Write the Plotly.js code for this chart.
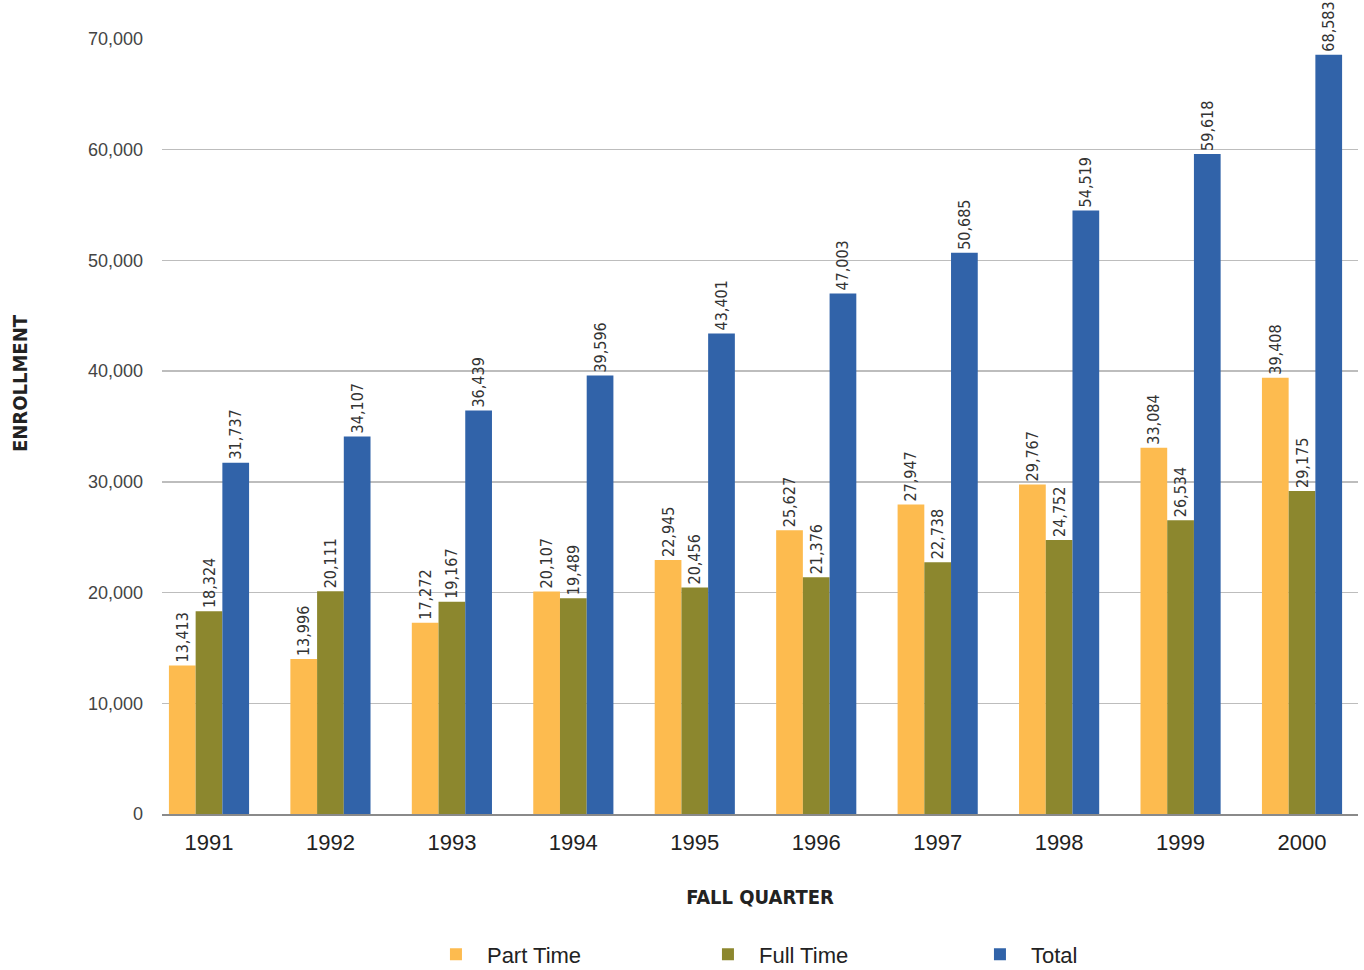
<!DOCTYPE html>
<html>
<head>
<meta charset="utf-8">
<script src="https://cdn.plot.ly/plotly-3.0.1.min.js"></script>
<style>html,body{margin:0;padding:0;background:#fff;}#chart{width:1364px;height:970px;}</style>
</head>
<body>
<div id="chart"></div>
<script>
const years = ['1991','1992','1993','1994','1995','1996','1997','1998','1999','2000'];
const partTime = [13413, 13996, 17272, 20107, 22945, 25627, 27947, 29767, 33084, 39408];
const fullTime = [18324, 20111, 19167, 19489, 20456, 21376, 22738, 24752, 26534, 29175];
const total = [31737, 34107, 36439, 39596, 43401, 47003, 50685, 54519, 59618, 68583];
const seriesNames = ['Part Time', 'Full Time', 'Total'];
const seriesColors = ['#FDBB4F', '#8C872E', '#3163A9'];

const fmt = v => v.toLocaleString('en-US');
const labelFont = {family: 'Liberation Sans Narrow, DejaVu Sans Condensed, sans-serif', size: 16, color: '#333'};

const traces = [partTime, fullTime, total].map((vals, i) => ({
  type: 'bar',
  name: seriesNames[i],
  x: years,
  y: vals,
  text: vals.map(fmt),
  textposition: 'outside',
  textangle: -90,
  textfont: labelFont,
  constraintext: 'none',
  cliponaxis: false,
  marker: {color: seriesColors[i]},
  hoverinfo: 'x+y+name'
}));

const layout = {
  width: 1364, height: 970,
  margin: {l: 162, r: 6, t: 39, b: 156, autoexpand: false},
  paper_bgcolor: '#fff', plot_bgcolor: '#fff',
  barmode: 'group',
  bargap: 0.34,
  bargroupgap: 0,
  xaxis: {
    type: 'category',
    range: [-0.387, 9.461],
    showgrid: false,
    showline: true, linecolor: '#8a8a8a', linewidth: 2,
    ticks: '',
    ticklabelstandoff: 8,
    automargin: false,
    tickfont: {family: 'Liberation Sans, Arial, sans-serif', size: 22, color: '#222'},
    title: {text: 'FALL QUARTER', font: {family: 'DejaVu Sans Condensed, sans-serif', size: 20, color: '#222', weight: 'bold'}, standoff: 36}
  },
  yaxis: {
    range: [0, 70000],
    dtick: 10000,
    tickformat: ',d',
    showgrid: true, gridcolor: '#bdbdbd', gridwidth: 1.5,
    zeroline: false,
    showline: false,
    ticks: '',
    automargin: false,
    ticklabelstandoff: 18,
    tickfont: {family: 'Liberation Sans, Arial, sans-serif', size: 18, color: '#444'}
  },
  annotations: [{
    text: 'ENROLLMENT',
    xref: 'paper', yref: 'paper',
    x: (20 - 162) / 1196, y: (814 - 383) / 775,
    xanchor: 'center', yanchor: 'middle',
    textangle: -90,
    showarrow: false,
    font: {family: 'DejaVu Sans Condensed, sans-serif', size: 20, color: '#222', weight: 'bold'}
  }],
  legend: {
    orientation: 'h',
    xref: 'paper', x: 0.561, xanchor: 'center',
    yref: 'container', y: 0.016, yanchor: 'middle',
    font: {family: 'Liberation Sans, Arial, sans-serif', size: 22, color: '#222'},
    entrywidth: 205,
    itemwidth: 52,
    traceorder: 'normal'
  },
  showlegend: true
};

Plotly.newPlot('chart', traces, layout, {displayModeBar: false, staticPlot: true});
</script>
</body>
</html>
